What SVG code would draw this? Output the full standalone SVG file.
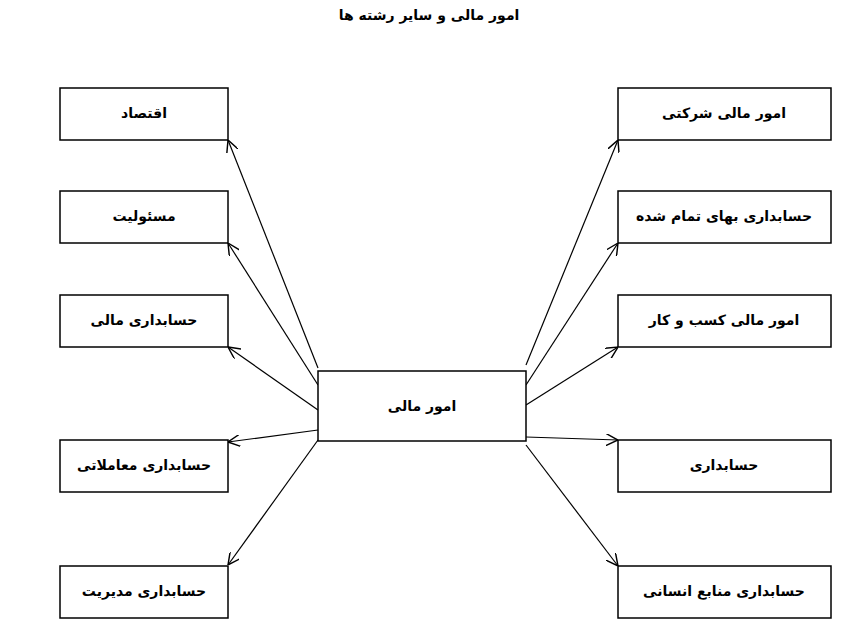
<svg xmlns="http://www.w3.org/2000/svg" width="858" height="620" viewBox="0 0 858 620">
<style>
rect{fill:#fff;stroke:#000;stroke-width:1.5}
text{font-family:"DejaVu Sans",sans-serif;font-weight:bold;font-size:14px;text-anchor:middle;direction:rtl}
.c line{stroke:#000;stroke-width:1.2;marker-end:url(#a)}
</style>
<defs><marker id="a" viewBox="0 0 10 10" refX="10" refY="5" markerWidth="12" markerHeight="12" markerUnits="userSpaceOnUse" orient="auto"><path d="M0,0L10,5L0,10" fill="none" stroke="#000" stroke-width="1.2"/></marker></defs>
<rect width="858" height="620" style="fill:#fff;stroke:none"/>
<text x="429" y="20">امور مالی و سایر رشته ها</text>
<g class="c">
<line x1="318" y1="368" x2="228" y2="140"/>
<line x1="318" y1="385" x2="228" y2="243"/>
<line x1="318" y1="410" x2="228" y2="347"/>
<line x1="318" y1="430" x2="228" y2="442"/>
<line x1="318" y1="440" x2="228" y2="565"/>
<line x1="526" y1="365" x2="618" y2="140"/>
<line x1="526" y1="385" x2="618" y2="243"/>
<line x1="526" y1="405" x2="618" y2="347"/>
<line x1="526" y1="437" x2="618" y2="440"/>
<line x1="526" y1="445" x2="618" y2="566"/>
</g>
<g id="center"><rect x="318" y="371" width="208" height="70"/><text x="422" y="411">امور مالی</text></g>
<g id="l1"><rect x="60" y="88" width="168" height="52"/><text x="144" y="118">اقتصاد</text></g>
<g id="l2"><rect x="60" y="191" width="168" height="52"/><text x="144" y="221">مسئولیت</text></g>
<g id="l3"><rect x="60" y="295" width="168" height="52"/><text x="144" y="325">حسابداری مالی</text></g>
<g id="l4"><rect x="60" y="440" width="168" height="52"/><text x="144" y="470">حسابداری معاملاتی</text></g>
<g id="l5"><rect x="60" y="566" width="168" height="52"/><text x="144" y="596">حسابداری مدیریت</text></g>
<g id="r1"><rect x="618" y="88" width="213" height="52"/><text x="724" y="118">امور مالی شرکتی</text></g>
<g id="r2"><rect x="618" y="191" width="213" height="52"/><text x="724" y="221">حسابداری بهای تمام شده</text></g>
<g id="r3"><rect x="618" y="295" width="213" height="52"/><text x="724" y="325">امور مالی کسب و کار</text></g>
<g id="r4"><rect x="618" y="440" width="213" height="52"/><text x="724" y="470">حسابداری</text></g>
<g id="r5"><rect x="618" y="566" width="213" height="52"/><text x="724" y="596">حسابداری منابع انسانی</text></g>
</svg>
